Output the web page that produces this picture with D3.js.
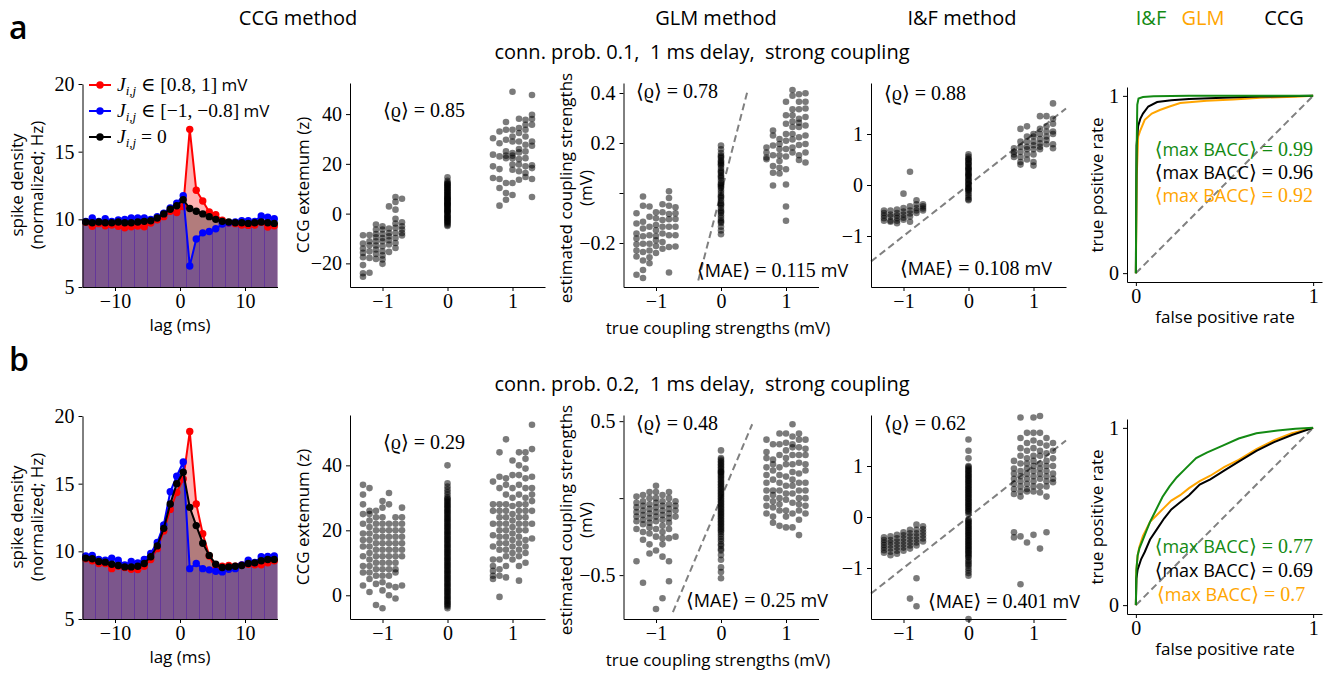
<!DOCTYPE html>
<html>
<head>
<meta charset="utf-8">
<script src="https://cdn.jsdelivr.net/npm/d3@7"></script>
<style>
  body { margin: 0; background: #fff; }
  .tick line, .domain { stroke: #000; stroke-width: 1; }
</style>
</head>
<body>
<svg id="fig" width="1330" height="675"></svg>
<script>
// ---- CCG curves (lag in ms, spike density) ----
const lags = [-14.5, -13.5, -12.5, -11.5, -10.5, -9.5, -8.5, -7.5, -6.5, -5.5, -4.5, -3.5, -2.5, -1.5, -0.5,
  0.5, 1.5, 2.5, 3.5, 4.5, 5.5, 6.5, 7.5, 8.5, 9.5, 10.5, 11.5, 12.5, 13.5, 14.5];
const edgeLags = [-13, -11, -9, -7, -5, -3, -1, 1, 3, 5, 7, 9, 11, 13];

const ccgRedA = [9.78, 9.48, 9.68, 9.53, 9.58, 9.48, 9.38, 9.45, 9.5, 9.45, 9.73, 9.97, 10.2, 10.6, 10.5,
  10.95, 16.65, 12.15, 11.35, 10.55, 10.35, 9.93, 9.73, 9.68, 9.58, 9.55, 9.58, 9.78, 9.43, 9.53];
const ccgBlueA = [9.85, 10.1, 9.85, 10.05, 9.85, 9.95, 10.0, 10.1, 10.1, 10.1, 10.0, 10.2, 10.45, 10.85, 11.2,
  11.75, 6.55, 8.55, 9.0, 9.1, 9.3, 9.65, 9.75, 9.8, 9.9, 9.9, 9.85, 10.25, 10.15, 10.05];
const ccgZeroA = [9.8, 9.75, 9.8, 9.75, 9.75, 9.8, 9.75, 9.75, 9.8, 9.85, 9.9, 10.1, 10.4, 10.75, 11.0,
  11.45, 10.8, 10.6, 10.4, 10.2, 10.0, 9.85, 9.8, 9.75, 9.75, 9.7, 9.75, 9.8, 9.75, 9.7];
const ccgRedB = [9.45, 9.3, 9.1, 9.1, 8.72, 8.9, 8.8, 8.68, 8.65, 8.9, 9.4, 10.2, 11.5, 13.1, 14.35,
  15.35, 18.85, 13.5, 11.3, 9.65, 8.72, 8.9, 8.95, 8.9, 9.0, 9.05, 9.0, 9.0, 9.15, 9.3];
const ccgBlueB = [9.65, 9.7, 9.4, 9.35, 9.5, 9.35, 9.0, 9.25, 9.15, 9.4, 9.85, 10.65, 11.95, 14.4, 15.55,
  16.6, 8.72, 9.1, 8.72, 8.63, 8.53, 8.48, 8.68, 8.72, 9.0, 9.35, 9.18, 9.6, 9.62, 9.65];
const ccgZeroB = [9.5, 9.45, 9.25, 9.2, 9.05, 8.95, 8.85, 8.85, 8.9, 9.1, 9.6, 10.4, 11.7, 13.5, 15.0,
  15.85, 13.25, 11.9, 10.6, 9.7, 9.05, 8.8, 8.85, 8.9, 8.95, 9.1, 9.15, 9.3, 9.4, 9.4];

// ---- scatter: true coupling (columns) vs estimate ----
const trueJ = [-1.3, -1.2, -1.1, -1.0, -0.9, -0.8, -0.7, 0, 0.7, 0.8, 0.9, 1.0, 1.1, 1.2, 1.3];

const zA = [
  [-8.7, -12, -14, -15.8, -17.5, -20.7, -24, -25.4],
  [-8.6, -11.1, -12.7, -15.1, -17.8, -23.8],
  [-4.4, -6.4, -8.2, -9.5, -11.1, -12.8, -14.4, -16.2, -18.2],
  [-5.1, -6.4, -8.2, -9.8, -11.1, -13.1, -15.1, -16.8, -18.4, -20.2],
  [2.9, -6, -7.8, -9.1, -10.7, -12.4, -15.4],
  [6.7, 4.7, 1.6, -2.1, -4, -5.7, -7.8, -9.8, -11.8, -13.8],
  [6, -3.5, -5.1, -6.4, -7.8, -8.8],
  [14.6, 13.2, 12.5, 11.9, 11.4, 10.8, 10.3, 9.7, 9.2, 8.6, 8.1, 7.5, 7.0, 6.4, 5.9, 5.3, 4.8, 4.2, 3.7,
   3.1, 2.6, 2.0, 1.5, 0.9, 0.4, -0.2, -0.7, -1.3, -1.8, -2.4, -2.9, -3.5, -4.0, -4.6, -5.0,
   6.1, 3.9, 2.3, 0.6, 4.5, 5.6, 7.8, 1.2, -1.0, 8.9, 3.4, 10.0, 11.1, 12.1, -2.0, -3.2, 6.8],
  [30.3, 23.7, 19, 14.3],
  [33, 28.3, 23, 17.9, 13.9, 10.3, 3.2],
  [36.8, 33.7, 29.7, 25, 23.3, 22.3, 12.3, 8.3, 5.6],
  [49, 33.7, 31, 29, 24.3, 23.3, 22.3, 19.7, 17.6, 12.3, 7.5],
  [38.1, 34.4, 32.4, 29, 26, 24.6, 21.9, 19.7, 17, 13.6],
  [37.7, 35.7, 33.7, 31, 27.7, 25, 22.3, 19, 16.3, 14.7],
  [47.7, 39.7, 38, 35.7, 29, 27.3, 19.4, 18.3, 13.9, 6.7]
];
const glmA = [
  [-0.081, -0.122, -0.162, -0.182, -0.205, -0.23, -0.254, -0.327],
  [-0.014, -0.051, -0.115, -0.142, -0.173, -0.203, -0.236, -0.27, -0.308, -0.34],
  [-0.054, -0.095, -0.135, -0.169, -0.203, -0.23, -0.257, -0.281],
  [-0.077, -0.101, -0.128, -0.149, -0.172, -0.189, -0.212, -0.24],
  [-0.045, -0.077, -0.108, -0.135, -0.162, -0.196, -0.223],
  [0.007, -0.02, -0.051, -0.084, -0.105, -0.135, -0.169, -0.216, -0.318],
  [-0.057, -0.081, -0.104, -0.135, -0.169, -0.214],
  [0.19, 0.175, 0.16, 0.15, 0.14, 0.13, 0.12, 0.11, 0.1, 0.09, 0.08, 0.07, 0.06, 0.05, 0.04, 0.03, 0.02,
   0.01, 0.0, -0.01, -0.02, -0.03, -0.04, -0.05, -0.06, -0.07, -0.08, -0.09, -0.1, -0.11, -0.12, -0.135,
   -0.15, -0.165, 0.085, 0.035, -0.015, 0.065, 0.115, -0.045, 0.145, 0.125, 0.025, -0.075, -0.115],
  [0.182, 0.162, 0.142, 0.135],
  [0.25, 0.23, 0.19, 0.151, 0.108, 0.081, 0.03],
  [0.216, 0.196, 0.176, 0.151, 0.128, 0.101, 0.078],
  [0.365, 0.311, 0.277, 0.236, 0.209, 0.176, 0.146, 0.095, 0.034, -0.054, -0.111],
  [0.412, 0.389, 0.335, 0.311, 0.286, 0.264, 0.236, 0.214, 0.182, 0.162],
  [0.395, 0.365, 0.335, 0.297, 0.281, 0.264, 0.223, 0.192, 0.151, 0.132],
  [0.399, 0.365, 0.338, 0.304, 0.27, 0.23, 0.196, 0.162, 0.122]
];
const iafA = [
  [-0.5, -0.55, -0.6, -0.65, -0.7],
  [-0.5, -0.58, -0.62, -0.7, -0.72],
  [-0.48, -0.55, -0.6, -0.65, -0.7, -0.75],
  [-0.45, -0.52, -0.58, -0.64, -0.68, -0.17],
  [-0.42, -0.5, -0.56, -0.62, 0.26, -0.72],
  [-0.3, -0.38, -0.45, -0.5, -0.55],
  [-0.38, -0.42, -0.46, -0.5],
  [0.6, 0.56, 0.52, 0.48, 0.44, 0.4, 0.36, 0.32, 0.28, 0.24, 0.2, 0.16, 0.12, 0.08, 0.04, 0.0, -0.04,
   -0.08, -0.12, -0.16, -0.2, -0.24, -0.28, -0.3, 0.1, 0.02, -0.06, 0.18, 0.3, 0.5, 0.42, 0.34, 0.22, -0.1],
  [0.72, 0.65, 0.6, 0.55],
  [1.1, 0.85, 0.75, 0.65, 0.55, 0.45, 0.4],
  [1.15, 0.95, 0.85, 0.75, 0.7, 0.6, 0.5],
  [1.0, 0.95, 0.85, 0.78, 0.7, 0.6, 0.45, 0.38],
  [1.35, 1.1, 1.0, 0.9, 0.82, 0.75, 0.7],
  [1.35, 1.15, 1.05, 0.95, 0.88, 0.8],
  [1.6, 1.3, 1.2, 1.05, 1.0, 0.8, 0.72]
];
const zB = [
  [34, 31, 28, 25, 22, 19, 17, 15, 12, 9, 7, 3],
  [33, 26, 25, 23, 21, 19, 17, 15, 13, 11, 9, 7, 5, 1],
  [26, 24, 22, 20, 18, 16, 14, 12, 10, 8, 6, 3.5, -3],
  [29, 27, 24, 22, 20, 18, 16, 14, 12, 10, 8, 6, 4, 1.5, -4],
  [31.5, 28, 22, 20, 18, 16, 14, 12, 10, 8, 6, 3, 0],
  [24, 22, 20, 18, 16, 14, 12, 10, 8, 7, 2.5, -1],
  [27, 24, 22, 20, 18, 16, 14, 12, 3],
  [40, 34.5, 33.5, 32.6, 31.8, 31, 30.2, 29.4, 28.6, 27.8, 27, 26.2, 25.4, 24.6, 23.8, 23, 22.2, 21.4,
   20.6, 19.8, 19, 18.2, 17.4, 16.6, 15.8, 15, 14.2, 13.4, 12.6, 11.8, 11, 10.2, 9.4, 8.6, 7.8, 7, 6.2,
   5.4, 4.6, 3.8, 3, 2.2, 1.4, 0.6, -0.2, -1, -1.8, -2.6, -3.4, -4,
   29.8, 29, 28.2, 27.4, 26.6, 25.8, 25, 24.2, 23.4, 22.6, 21.8, 21, 20.2, 19.4, 18.6, 17.8, 17, 16.2,
   15.4, 14.6, 13.8, 13, 12.2, 11.4, 10.6, 9.8, 9, 8.2, 7.4, 6.6, 5.8, 5, 4.2, 3.4, 2.6, 1.8, 1, 0.2,
   -0.6, -1.4, -2.2, -3],
  [35, 28, 26, 22, 18.5, 15, 11, 9, 7.5, 6, 5],
  [44, 36.5, 33, 28, 26, 24, 22, 20, 18, 16, 14, 11, 8, 6, -0.5],
  [48, 36, 34, 31, 28, 26, 24, 22, 20, 18, 16, 14, 12, 9, 5.5],
  [41.5, 37, 33, 30, 27.5, 25, 23, 21, 19, 17, 15, 13, 11],
  [44, 40, 37, 34, 31, 28, 26, 24, 22, 20, 18, 16, 14, 12, 9, 4.5],
  [44, 42, 39, 36, 33, 30, 28, 26, 24, 22, 20, 17, 15, 13, 10],
  [52.5, 45, 36.5, 33, 31, 29, 26, 22, 17.5]
];
const glmB = [
  [0.01, -0.03, -0.06, -0.09, -0.12, -0.15, -0.2, -0.41],
  [0.02, -0.02, -0.05, -0.08, -0.11, -0.14, -0.17, -0.22, -0.27, -0.55],
  [0.04, 0.0, -0.04, -0.07, -0.1, -0.13, -0.16, -0.19, -0.23, -0.3, -0.36],
  [0.08, 0.04, 0.0, -0.03, -0.06, -0.09, -0.12, -0.15, -0.2, -0.25, -0.34, -0.72],
  [0.02, -0.02, -0.05, -0.08, -0.11, -0.14, -0.18, -0.22, -0.26, -0.3, -0.38, -0.65],
  [0.04, 0.0, -0.04, -0.07, -0.1, -0.13, -0.16, -0.2, -0.26, -0.41, -0.54],
  [-0.02, -0.05, -0.08, -0.12, -0.25],
  [0.31, 0.26, 0.24, 0.22, 0.2, 0.18, 0.16, 0.14, 0.12, 0.1, 0.08, 0.06, 0.04, 0.02, 0.0, -0.02, -0.04,
   -0.06, -0.08, -0.1, -0.12, -0.14, -0.16, -0.18, -0.2, -0.22, -0.25, -0.28, -0.31, -0.34, -0.37, -0.4,
   -0.45, -0.48, -0.52, 0.05, 0.11, 0.17, -0.03, -0.09,
   0.25, 0.23, 0.21, 0.19, 0.17, 0.15, 0.13, 0.09, 0.07, 0.03, 0.01, -0.01, -0.05, -0.07, -0.11, -0.13,
   -0.15, -0.17, -0.19, -0.21, -0.235, -0.265, -0.3, -0.33],
  [0.38, 0.3, 0.26, 0.2, 0.15, 0.1, 0.05, 0.0, -0.05, -0.1],
  [0.35, 0.25, 0.22, 0.18, 0.12, 0.05, 0.02, -0.02, -0.06, -0.12, -0.16],
  [0.42, 0.35, 0.28, 0.2, 0.15, 0.1, 0.05, 0.0, -0.04, -0.08, -0.18],
  [0.42, 0.36, 0.31, 0.26, 0.22, 0.14, 0.08, 0.03, -0.01, -0.08, -0.12, -0.19],
  [0.48, 0.4, 0.35, 0.33, 0.28, 0.22, 0.17, 0.12, 0.08, 0.03, -0.03, -0.1, -0.19],
  [0.42, 0.38, 0.33, 0.28, 0.23, 0.16, 0.1, 0.05, 0.0, -0.04, -0.08, -0.14, -0.24],
  [0.38, 0.32, 0.28, 0.22, 0.18, 0.1, 0.05, 0.0, -0.05, -0.1]
];
const iafB = [
  [-0.4, -0.45, -0.5, -0.55, -0.6, -0.65, -0.7],
  [-0.38, -0.45, -0.5, -0.56, -0.62, -0.68, -0.75],
  [-0.35, -0.42, -0.48, -0.54, -0.6, -0.66, -0.72],
  [-0.3, -0.36, -0.42, -0.48, -0.54, -0.6, -0.66],
  [-0.25, -0.32, -0.38, -0.44, -0.5, -0.56, -0.62, -1.6],
  [-0.15, -0.25, -0.32, -0.38, -0.44, -0.5, -0.56, -1.2, -1.75],
  [-0.18, -0.24, -0.3, -0.36, -0.42, -0.48],
  [1.52, 1.3, 1.15, 1.0, 0.95, 0.9, 0.85, 0.8, 0.75, 0.7, 0.65, 0.6, 0.55, 0.5, 0.45, 0.4, 0.35, 0.3,
   0.25, 0.2, 0.15, 0.1, 0.06, -0.05, -0.1, -0.15, -0.2, -0.25, -0.3, -0.35, -0.4, -0.45, -0.5, -0.55,
   -0.6, -0.65, -0.7, -0.75, -0.8, -0.88, -0.95, -1.05, -1.15, -2.0,
   0.98, 0.92, 0.87, 0.82, 0.77, 0.72, 0.67, 0.62, 0.57, 0.52, 0.47, 0.42, 0.37, 0.32, 0.27, 0.22, 0.17,
   0.12, -0.07, -0.12, -0.17, -0.22, -0.27, -0.32, -0.37, -0.42, -0.47, -0.52, -0.57, -0.62, -0.67,
   -0.72, -0.78, -0.85, -0.92, -1.0, -1.1],
  [1.1, 0.95, 0.85, 0.75, 0.65, 0.55, 0.45, -0.3, -0.4],
  [1.95, 1.55, 1.35, 1.2, 1.05, 0.9, 0.8, 0.7, 0.6, 0.5, 0.4, -0.38, -1.32],
  [1.65, 1.45, 1.3, 1.15, 1.05, 0.95, 0.85, 0.75, 0.65, 0.55, 0.5, -0.5],
  [1.95, 1.65, 1.5, 1.35, 1.2, 1.1, 1.0, 0.9, 0.8, 0.7, 0.6, 0.5, -0.35],
  [1.98, 1.65, 1.45, 1.3, 1.2, 1.05, 0.95, 0.85, 0.75, 0.6, 0.48, -0.62],
  [1.55, 1.4, 1.25, 1.1, 1.0, 0.9, 0.8, 0.7, 0.6, 0.4, -0.3],
  [1.45, 1.3, 1.15, 1.0, 0.85, 0.75, 0.68]
];

// ---- ROC curves [fpr, tpr] ----
const rocIFa = [[0, 0], [0.003, 0.6], [0.008, 0.95], [0.015, 0.985], [0.04, 0.993], [0.1, 0.998], [0.3, 1], [1, 1]];
const rocCCGa = [[0, 0], [0.004, 0.72], [0.013, 0.83], [0.025, 0.87], [0.04, 0.9], [0.07, 0.94], [0.12, 0.965],
  [0.2, 0.975], [0.3, 0.982], [0.49, 0.99], [0.7, 0.996], [1, 1]];
const rocGLMa = [[0, 0], [0.005, 0.55], [0.013, 0.77], [0.023, 0.8], [0.05, 0.865], [0.09, 0.9], [0.135, 0.92],
  [0.19, 0.94], [0.25, 0.96], [0.4, 0.972], [0.55, 0.98], [0.7, 0.99], [0.9, 0.995], [1, 1]];
const rocIFb = [[0, 0], [0.003, 0.2], [0.01, 0.28], [0.02, 0.32], [0.04, 0.37], [0.06, 0.42], [0.08, 0.47],
  [0.11, 0.53], [0.15, 0.61], [0.19, 0.67], [0.23, 0.72], [0.28, 0.77], [0.34, 0.83], [0.4, 0.86],
  [0.49, 0.9], [0.58, 0.94], [0.68, 0.97], [0.8, 0.985], [0.9, 0.995], [1, 1]];
const rocGLMb = [[0, 0], [0.003, 0.2], [0.01, 0.28], [0.02, 0.33], [0.04, 0.39], [0.06, 0.43], [0.08, 0.47],
  [0.12, 0.51], [0.16, 0.55], [0.2, 0.59], [0.25, 0.62], [0.3, 0.66], [0.36, 0.7], [0.42, 0.73],
  [0.5, 0.78], [0.58, 0.82], [0.68, 0.88], [0.78, 0.93], [0.88, 0.97], [1, 1]];
const rocCCGb = [[0, 0], [0.003, 0.15], [0.01, 0.2], [0.03, 0.26], [0.05, 0.3], [0.08, 0.37], [0.12, 0.43],
  [0.16, 0.49], [0.2, 0.54], [0.25, 0.58], [0.3, 0.62], [0.36, 0.68], [0.42, 0.71], [0.5, 0.76],
  [0.58, 0.81], [0.68, 0.87], [0.78, 0.92], [0.88, 0.96], [1, 1]];

const rhoA = ['0.85', '0.78', '0.88'];
const rhoB = ['0.29', '0.48', '0.62'];
const maeA = ['0.115', '0.108'];
const maeB = ['0.25', '0.401'];
const baccA = ['0.99', '0.96', '0.92'];
const baccB = ['0.77', '0.69', '0.7'];

const GREEN = '#138a13', ORANGE = '#ffa500';
const SERIF = "'Liberation Serif', 'DejaVu Serif', serif";
const SANS = "'Open Sans', Lato, sans-serif";

// ---- layout ----
const svg = d3.select('#fig');
const rowOff = [0, 332];
const frames = {
  ccg: { x0: 82.5, x1: 277.5, top: 84, bottom: 287 },
  z: { x0: 350, x1: 545, top: 83, bottom: 287 },
  glm: { x0: 623.5, x1: 818.5, top: 83, bottom: 287 },
  iaf: { x0: 871, x1: 1066, top: 83, bottom: 287 },
  roc: { x0: 1127, x1: 1322, top: 87, bottom: 282 }
};

const fmt = d3.format('');

function drawAxes(g, x, y, xt, yt, hideZeroY) {
  g.append('g')
    .attr('transform', `translate(0,${y.range()[0]})`)
    .call(d3.axisBottom(x).tickValues(xt).tickSize(4).tickSizeOuter(0).tickPadding(3).tickFormat(fmt));
  g.append('g')
    .attr('transform', `translate(${x.range()[0]},0)`)
    .call(d3.axisLeft(y).tickValues(yt).tickSize(4).tickSizeOuter(0).tickPadding(4)
      .tickFormat((d) => (hideZeroY && d === 0 ? '' : fmt(d))));
  g.selectAll('.tick text').style('font-family', SERIF).style('font-size', '20px').style('fill', '#000');
  g.selectAll('.domain').attr('fill', 'none');
}

function label(x, y, lines, rot) {
  const t = svg.append('text').attr('text-anchor', 'middle')
    .style('font-family', SANS).style('font-size', '17px').style('fill', '#000')
    .attr('transform', `translate(${x},${y})` + (rot ? ' rotate(-90)' : ''));
  lines.forEach((s, i) => {
    t.append('tspan').attr('x', 0).attr('dy', i === 0 ? 0 : 20).text(s);
  });
}

// mixed serif/sans annotation, parts = [[text, 'serif'|'sans'], ...]
function mixed(x, y, parts, color, anchor) {
  const t = svg.append('text').attr('x', x).attr('y', y).style('fill', color || '#000')
    .attr('text-anchor', anchor || 'start');
  parts.forEach(([s, f]) => {
    t.append('tspan')
      .style('font-family', f === 'sans' ? SANS : SERIF)
      .style('font-size', f === 'sans' ? '18px' : '20px')
      .text(s);
  });
  return t;
}

function drawCCG(row, red, blue, zero) {
  const f = frames.ccg, oy = rowOff[row];
  const x = d3.scaleLinear().domain([-15, 15]).range([f.x0, f.x1]);
  const y = d3.scaleLinear().domain([5, 20]).range([f.bottom + oy, f.top + oy]);
  const g = svg.append('g');
  const series = [{ v: red, c: '#ff0000' }, { v: blue, c: '#0000ff' }, { v: zero, c: '#000000' }];
  const area = d3.area().x((d) => x(d[0])).y0(y(5)).y1((d) => y(d[1]));
  series.forEach((s) => {
    const pts = lags.map((l, i) => [l, s.v[i]]);
    const ext = [[-15, s.v[0]], ...pts, [15, s.v[s.v.length - 1]]];
    g.append('path').attr('d', area(ext)).attr('fill', s.c).attr('fill-opacity', 0.3);
  });
  edgeLags.forEach((e) => {
    const i = lags.indexOf(e + 0.5);
    const top = d3.min(series, (s) => (s.v[i - 1] + s.v[i]) / 2);
    g.append('line').attr('x1', x(e)).attr('x2', x(e)).attr('y1', y(5)).attr('y2', y(top))
      .attr('stroke', '#5a2aa0').attr('stroke-width', 1).attr('stroke-opacity', 0.7);
  });
  const line = d3.line().x((d, i) => x(lags[i])).y((d) => y(d));
  series.forEach((s) => {
    g.append('path').attr('d', line(s.v)).attr('fill', 'none').attr('stroke', s.c).attr('stroke-width', 2);
    g.selectAll(null).data(s.v).enter().append('circle')
      .attr('cx', (d, i) => x(lags[i])).attr('cy', (d) => y(d)).attr('r', 3.7).attr('fill', s.c);
  });
  drawAxes(g, x, y, [-10, 0, 10], [5, 10, 15, 20]);
  label(23, 185 + oy, ['spike density', '(normalized; Hz)'], true);
  label(180, 331 + oy, ['lag (ms)']);
  return { x, y };
}

function drawScatter(key, row, cols, ydom, yticks, hideZero, diag) {
  const f = frames[key], oy = rowOff[row];
  const x = d3.scaleLinear().domain([-1.5, 1.5]).range([f.x0, f.x1]);
  const y = d3.scaleLinear().domain(ydom).range([f.bottom + oy, f.top + oy]);
  const g = svg.append('g');
  if (diag) {
    g.append('line').attr('x1', x(diag[0])).attr('y1', y(diag[0])).attr('x2', x(diag[1])).attr('y2', y(diag[1]))
      .attr('stroke', '#808080').attr('stroke-width', 2).attr('stroke-dasharray', '7,4');
  }
  const pts = cols.flatMap((ys, i) => ys.map((v) => ({ x: trueJ[i], y: v })));
  g.selectAll(null).data(pts).enter().append('circle')
    .attr('cx', (d) => x(d.x)).attr('cy', (d) => y(d.y)).attr('r', 3.3)
    .attr('fill', '#000').attr('fill-opacity', 0.52);
  drawAxes(g, x, y, [-1, 0, 1], yticks, hideZero);
  return { x, y };
}

function drawROC(row, curves) {
  const f = frames.roc, oy = rowOff[row];
  const x = d3.scaleLinear().domain([-0.05, 1.05]).range([f.x0, f.x1]);
  const y = d3.scaleLinear().domain([-0.05, 1.05]).range([f.bottom + oy, f.top + oy]);
  const g = svg.append('g');
  g.append('line').attr('x1', x(0)).attr('y1', y(0)).attr('x2', x(1)).attr('y2', y(1))
    .attr('stroke', '#808080').attr('stroke-width', 2).attr('stroke-dasharray', '7,4');
  const line = d3.line().x((d) => x(d[0])).y((d) => y(d[1]));
  curves.forEach((c) => {
    g.append('path').attr('d', line(c.d)).attr('fill', 'none').attr('stroke', c.c).attr('stroke-width', 2);
  });
  drawAxes(g, x, y, [0, 1], [0, 1]);
  label(1103, 185 + oy, ['true positive rate'], true);
  label(1225, 323 + oy, ['false positive rate']);
  return { x, y };
}

// ---- titles ----
function title(x, y, s, color) {
  svg.append('text').attr('x', x).attr('y', y).attr('text-anchor', 'middle')
    .style('font-family', "'Open Sans', sans-serif").style('font-size', '20px')
    .style('fill', color || '#000').style('white-space', 'pre').text(s);
}
title(298, 25, 'CCG method');
title(716, 25, 'GLM method');
title(962, 25, 'I&F method');
title(1151, 25, 'I&F', GREEN);
title(1203, 25, 'GLM', ORANGE);
title(1284, 25, 'CCG');

const subtitles = ['conn. prob. 0.1,  1 ms delay,  strong coupling', 'conn. prob. 0.2,  1 ms delay,  strong coupling'];
['a', 'b'].forEach((letter, row) => {
  const oy = rowOff[row];
  svg.append('text').attr('x', 9).attr('y', 39 + oy).style('font-family', "'Open Sans', sans-serif")
    .style('font-size', '32px').style('font-weight', 600).text(letter);
  title(702, 59 + oy, subtitles[row]);
});

// ---- row a ----
drawCCG(0, ccgRedA, ccgBlueA, ccgZeroA);
drawScatter('z', 0, zA, [-29.5, 52.5], [-20, 0, 20, 40], false, null);
drawScatter('glm', 0, glmA, [-0.376, 0.44], [-0.2, 0, 0.2, 0.4], true, [-0.35, 0.41]);
drawScatter('iaf', 0, iafA, [-2, 2], [-1, 0, 1], false, [-1.5, 1.5]);
drawROC(0, [{ d: rocGLMa, c: ORANGE }, { d: rocCCGa, c: '#000' }, { d: rocIFa, c: GREEN }]);

// ---- row b ----
drawCCG(1, ccgRedB, ccgBlueB, ccgZeroB);
drawScatter('z', 1, zB, [-7.3, 55.5], [0, 20, 40], false, null);
drawScatter('glm', 1, glmB, [-0.785, 0.54], [-0.5, 0, 0.5], true, [-0.74, 0.48]);
drawScatter('iaf', 1, iafB, [-2, 2], [-1, 0, 1], false, [-1.5, 1.5]);
drawROC(1, [{ d: rocGLMb, c: ORANGE }, { d: rocCCGb, c: '#000' }, { d: rocIFb, c: GREEN }]);

// axis labels for scatter panels
[0, 1].forEach((row) => {
  const oy = rowOff[row];
  label(309, 185 + oy, ['CCG extemum (z)'], true);
  label(572, 188 + oy, ['estimated coupling strengths', '(mV)'], true);
  label(718, 334 + oy, ['true coupling strengths (mV)']);
});

// ---- legend (panel a, CCG) ----
const legend = [
  { c: '#ff0000', t: ['∈ [0.8, 1]', ' mV'] },
  { c: '#0000ff', t: ['∈ [−1, −0.8]', ' mV'] },
  { c: '#000000', t: ['= 0', ''] }
];
legend.forEach((L, i) => {
  const yy = 85 + i * 26;
  svg.append('line').attr('x1', 89).attr('x2', 111).attr('y1', yy).attr('y2', yy).attr('stroke', L.c).attr('stroke-width', 2);
  svg.append('circle').attr('cx', 100).attr('cy', yy).attr('r', 3.7).attr('fill', L.c);
  const t = svg.append('text').attr('x', 117).attr('y', yy + 6).style('font-size', '19.5px').style('font-family', SERIF);
  t.append('tspan').style('font-style', 'italic').text('J');
  t.append('tspan').style('font-style', 'italic').style('font-size', '13px').attr('dy', 4).text('i,j');
  t.append('tspan').attr('dy', -4).text(' ' + L.t[0]);
  if (L.t[1]) t.append('tspan').style('font-family', SANS).style('font-size', '17px').text(L.t[1]);
});

// ---- annotations ----
const S = 'serif', N = 'sans';
const rhoPos = [[383, 117, 449], [636, 98, 430], [884, 100, 430]];
rhoPos.forEach((p, k) => {
  mixed(p[0], p[1], [['⟨ϱ⟩ = ' + rhoA[k], S]]);
  mixed(p[0], p[2], [['⟨ϱ⟩ = ' + rhoB[k], S]]);
});
mixed(697, 277, [['⟨', S], ['MAE', N], ['⟩ = ' + maeA[0] + ' ', S], ['mV', N]]);
mixed(900, 275, [['⟨', S], ['MAE', N], ['⟩ = ' + maeA[1] + ' ', S], ['mV', N]]);
mixed(686, 607, [['⟨', S], ['MAE', N], ['⟩ = ' + maeB[0] + ' ', S], ['mV', N]]);
mixed(928, 608, [['⟨', S], ['MAE', N], ['⟩ = ' + maeB[1] + ' ', S], ['mV', N]]);

const baccColors = [GREEN, '#000', ORANGE];
baccColors.forEach((c, k) => {
  mixed(1313, 156 + k * 23, [['⟨', S], ['max BACC', N], ['⟩ = ' + baccA[k], S]], c, 'end');
  if (k < 2) mixed(1313, 553 + k * 24, [['⟨', S], ['max BACC', N], ['⟩ = ' + baccB[k], S]], c, 'end');
  else mixed(1157, 601, [['⟨', S], ['max BACC', N], ['⟩ = ' + baccB[k], S]], c, 'start');
});
</script>
</body>
</html>
